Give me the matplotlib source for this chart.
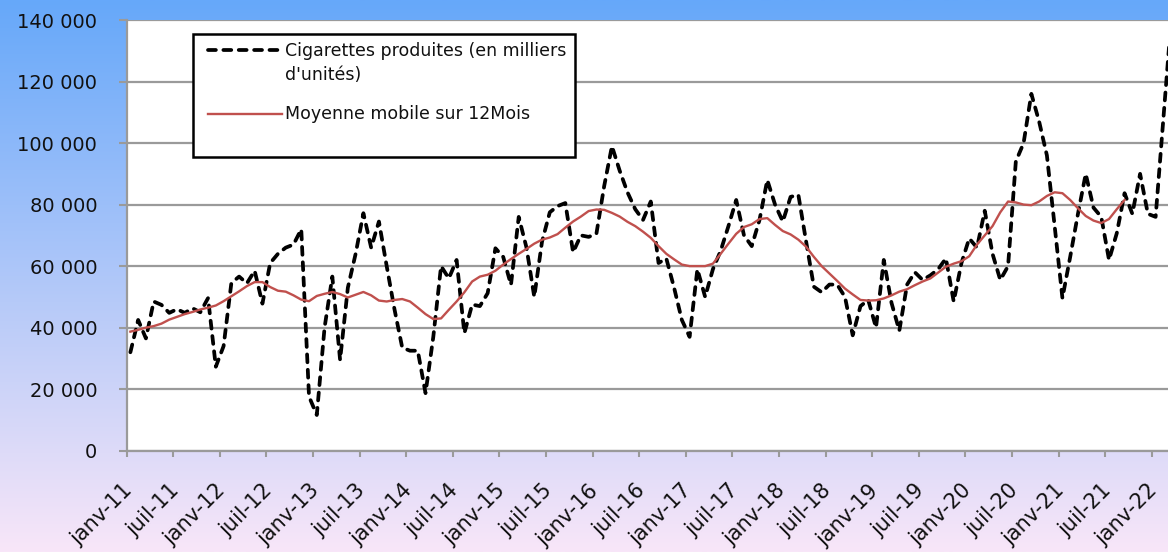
import numpy as np
import matplotlib
matplotlib.use("Agg")
import matplotlib.pyplot as plt
from matplotlib.lines import Line2D
from matplotlib.patches import Rectangle
from matplotlib.ticker import FixedLocator, FuncFormatter
from matplotlib.transforms import ScaledTranslation

# ---------------- data ----------------
month_names = ["janv", "févr", "mars", "avr", "mai", "juin",
               "juil", "août", "sept", "oct", "nov", "déc"]
categories = [f"{m}-{y:02d}" for y in range(11, 23) for m in month_names][:135]

production = [
    32000, 42500, 36500, 48500, 47400, 44800, 46000, 44800, 46300, 45000, 49600, 27300,   # 2011
    34000, 54500, 56600, 54400, 58500, 47800, 61000, 64000, 66000, 67000, 72000, 17600,   # 2012
    11600, 40000, 56600, 29500, 53000, 64000, 77200, 66000, 74500, 60000, 46000, 33500,   # 2013
    32500, 32500, 18700, 37000, 60000, 56000, 62000, 38200, 47500, 47000, 51200, 65800,   # 2014
    63000, 53900, 76000, 66000, 50000, 68000, 77500, 79500, 80500, 64500, 70000, 69500,   # 2015
    70500, 86000, 99000, 91000, 84000, 78500, 75000, 81000, 61000, 62500, 53000, 42500,   # 2016
    37000, 59000, 50000, 59000, 65000, 73000, 81500, 70000, 66500, 75000, 88000, 80000,   # 2017
    74500, 82500, 83200, 68000, 53300, 51500, 54000, 54000, 50000, 37500, 47000, 49000,   # 2018
    40000, 62000, 48000, 39000, 54000, 58000, 55500, 57000, 59000, 62500, 48500, 61000,   # 2019
    69000, 66000, 78000, 64000, 55500, 60000, 94000, 100000, 116000, 107000, 96000, 73000,  # 2020
    49600, 63000, 77000, 90000, 79000, 76000, 62000, 70700, 83700, 77000, 90000, 77000,   # 2021
    76000, 108000, 140000,                                                              # 2022
]

moving_avg = [
    38700, 39300, 40000, 40500, 41300, 42600, 43500, 44400, 45100, 45900, 46500, 47200,
    48600, 50200, 51800, 53500, 54800, 54800, 53200, 52000, 51700, 50500, 49100, 48600,
    50300, 51000, 51600, 50900, 49800, 50700, 51600, 50500, 48800, 48500, 49000, 49300,
    48500, 46500, 44400, 42800, 43000, 45800, 48500, 51500, 55000, 56600, 57200, 58500,
    60500, 62300, 64000, 65600, 67300, 68600, 69300, 70400, 72500, 74500, 76100, 77900,
    78400, 78300, 77300, 76100, 74400, 73000, 71200, 69200, 66500, 64000, 62200, 60500,
    60000, 60000, 60000, 60800, 64000, 67300, 70500, 72700, 73600, 75300, 75600, 73400,
    71400, 70300, 68600, 66300, 63000, 60000, 57600, 55200, 52700, 50800, 49000, 48800,
    48900, 49500, 50500, 51700, 52500, 53800, 55000, 56000, 57900, 59800, 60800, 61600,
    63200, 67000, 70000, 73000, 77500, 81000, 80700, 80000, 79800, 81000, 82800, 84000,
    83700, 81500, 78800, 76300, 74800, 74000, 75300, 78500, 81500,
]

label_prod = "Cigarettes produites (en milliers\nd'unités)"
label_ma = "Moyenne mobile sur 12Mois"
y_ticks = [0, 20000, 40000, 60000, 80000, 100000, 120000, 140000]

# ---------------- figure ----------------
W, H = 1168, 552
fig = plt.figure(figsize=(W / 100, H / 100), dpi=100)
plt.rcParams['font.family'] = ['DejaVu Sans']

# background gradient
bg = fig.add_axes([0, 0, 1, 1], zorder=-10)
top = np.array([102, 168, 250]) / 255
bot = np.array([248, 230, 248]) / 255
t = np.linspace(0, 1, 256)[:, None]
grad = (top[None, :] * (1 - t) + bot[None, :] * t)[:, None, :]
bg.imshow(grad, aspect='auto', extent=[0, 1, 0, 1])
bg.set_axis_off()

def fx(px):
    return px / W

def fy(py):
    return 1 - py / H

left_px, right_px, top_px, bottom_px = 126.5, 1168, 20, 450.7
ax = fig.add_axes([fx(left_px), fy(bottom_px), fx(right_px - left_px), (bottom_px - top_px) / H])
ax.set_facecolor('white')

x_prod = np.arange(len(production))
x_ma = np.arange(len(moving_avg))

grid_col = '#9a9a9a'
ax.plot(x_prod, production, color='black', lw=2.7,
        linestyle=(0, (2.1, 2.0)), dash_capstyle='round', dash_joinstyle='round', zorder=3)
ax.plot(x_ma, moving_avg, color='#c0504d', lw=1.7, zorder=4)

ax.set_ylim(0, 140000)
ax.set_xlim(-0.5, -0.5 + (right_px - left_px) / 7.767)

ax.set_yticks(y_ticks)
ax.yaxis.set_major_formatter(FuncFormatter(lambda v, p: f"{int(v):,}".replace(",", " ")))
tick_pos = np.arange(-0.5, len(production), 6)
ax.xaxis.set_major_locator(FixedLocator(tick_pos))
ax.set_xticklabels(categories[::6][:len(tick_pos)])

ax.yaxis.grid(True, color=grid_col, lw=1.6)
ax.set_axisbelow(True)
for s in ['top', 'right']:
    ax.spines[s].set_visible(False)
for s in ['left', 'bottom']:
    ax.spines[s].set_color(grid_col)
    ax.spines[s].set_linewidth(1.6)

ax.tick_params(axis='y', direction='out', length=6, width=1.5, color=grid_col,
               labelsize=14, pad=15, labelcolor='#111111')
ax.tick_params(axis='x', direction='out', length=4.5, width=1.5, color=grid_col,
               labelsize=15, pad=22, labelcolor='#111111')
shift = ScaledTranslation(2 / 72, 0, fig.dpi_scale_trans)
for lbl in ax.get_xticklabels():
    lbl.set_rotation(45)
    lbl.set_ha('right')
    lbl.set_va('center')
    lbl.set_rotation_mode('anchor')
    lbl.set_transform(lbl.get_transform() + shift)

# ---------------- legend (drawn in figure pixels) ----------------
fig.patches.append(Rectangle((fx(193), fy(157)), fx(575 - 193), (157 - 34) / H,
                             transform=fig.transFigure, facecolor='white',
                             edgecolor='black', lw=1.8, zorder=10))
fig.add_artist(Line2D([fx(208), fx(282)], [fy(50), fy(50)], transform=fig.transFigure,
                      color='black', lw=2.7, linestyle=(0, (2.1, 2.0)),
                      dash_capstyle='round', zorder=11))
fig.add_artist(Line2D([fx(208), fx(282)], [fy(114), fy(114)], transform=fig.transFigure,
                      color='#c0504d', lw=1.7, zorder=11))
fig.text(fx(285), fy(63), label_prod, fontsize=12.5, va='center', ha='left',
         linespacing=1.45, color='#111111', zorder=12)
fig.text(fx(285), fy(114), label_ma, fontsize=12.5, va='center', ha='left',
         color='#111111', zorder=12)

fig.savefig("out.png", dpi=100)
